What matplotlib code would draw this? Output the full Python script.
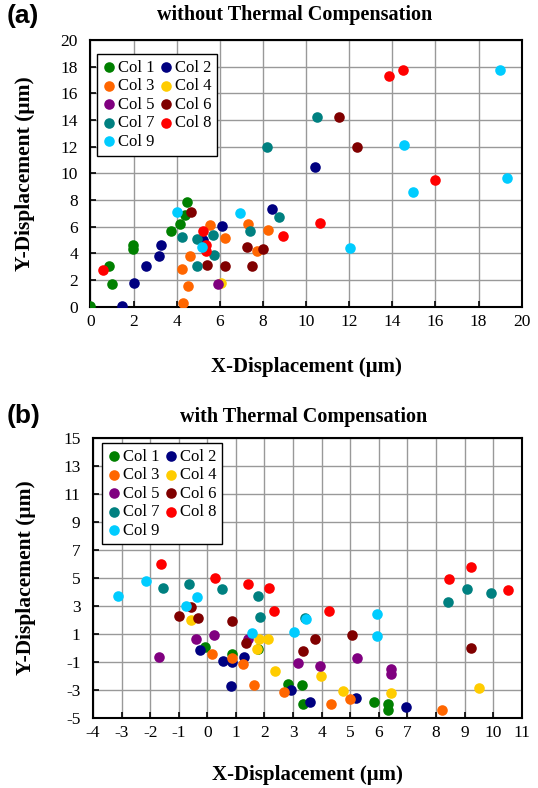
import matplotlib
matplotlib.use("Agg")
import matplotlib.pyplot as plt

plt.rcParams['font.family'] = ['Liberation Serif', 'DejaVu Serif']
plt.rcParams['axes.unicode_minus'] = False

labels = ['Col 1', 'Col 2', 'Col 3', 'Col 4', 'Col 5', 'Col 6', 'Col 7', 'Col 8', 'Col 9']
colors = ['#008000', '#000080', '#ff6600', '#ffcc00', '#800080',
          '#800000', '#008080', '#ff0000', '#00ccff']

# (a) without thermal compensation
a1x = [0.0, 0.98, 0.87, 1.99, 1.99, 3.72, 4.15, 4.46, 4.38]
a1y = [0.05, 1.7, 3.05, 4.6, 4.3, 5.67, 6.2, 7.87, 6.87]
a2x = [1.45, 2.03, 2.56, 3.19, 3.27, 5.2, 6.08, 8.43, 10.41]
a2y = [0.05, 1.8, 3.05, 3.8, 4.62, 5.0, 6.07, 7.32, 10.47]
a3x = [4.3, 4.54, 4.23, 4.62, 5.54, 6.24, 7.32, 7.71, 8.24]
a3y = [0.25, 1.58, 2.8, 3.8, 6.1, 5.13, 6.2, 4.2, 5.75]
a4x = [6.05]
a4y = [1.8]
a5x = [5.93]
a5y = [1.68]
a6x = [4.65, 5.39, 6.24, 7.25, 7.99, 7.47, 11.53, 12.38]
a6y = [7.1, 3.12, 3.05, 4.5, 4.3, 3.05, 14.2, 12.0]
a7x = [4.23, 4.93, 4.93, 5.68, 5.74, 7.4, 8.17, 8.74, 10.49]
a7y = [5.25, 5.1, 3.05, 5.35, 3.87, 5.67, 11.95, 6.7, 14.2]
a8x = [0.6, 5.2, 5.38, 5.36, 8.94, 10.64, 13.85, 14.51, 15.98]
a8y = [2.75, 5.67, 4.62, 4.2, 5.32, 6.3, 17.32, 17.74, 9.5]
a9x = [4.03, 5.16, 6.93, 12.04, 14.56, 14.94, 18.99, 19.33]
a9y = [7.12, 4.5, 7.05, 4.37, 12.12, 8.57, 17.74, 9.62]

# (b) with thermal compensation
b1x = [-0.07, 0.86, 1.79, 2.81, 3.3, 3.33, 5.84, 6.31, 6.31]
b1y = [0.04, -0.44, -0.1, -2.6, -2.65, -4.02, -3.85, -4.02, -4.44]
b2x = [-0.24, 0.56, 0.86, 1.3, 0.82, 2.93, 3.6, 5.2, 6.95]
b2y = [-0.15, -0.93, -1.0, -0.68, -2.72, -3.01, -3.9, -3.61, -4.21]
b3x = [0.15, 0.86, 1.24, 1.64, 2.67, 4.32, 4.98, 8.21]
b3y = [-0.46, -0.75, -1.15, -2.65, -3.13, -4.04, -3.63, -4.44]
b4x = [-0.56, 1.74, 1.82, 2.13, 2.37, 3.98, 4.76, 6.41, 9.51]
b4y = [2.0, -0.08, 0.64, 0.64, -1.63, -1.99, -3.06, -3.25, -2.89]
b5x = [-1.68, -0.41, 0.23, 1.41, 3.16, 3.94, 5.24, 6.41, 6.41]
b5y = [-0.67, 0.64, 0.92, 0.61, -1.06, -1.27, -0.75, -1.53, -1.87]
b6x = [-1.0, -0.56, -0.31, 0.86, 1.35, 3.33, 3.78, 5.05, 9.23]
b6y = [2.31, 2.9, 2.12, 1.95, 0.37, -0.2, 0.64, 0.92, 0.01]
b7x = [-1.56, -0.65, 0.51, 1.79, 1.83, 3.43, 8.41, 9.1, 9.91]
b7y = [4.31, 4.55, 4.21, 3.74, 2.24, 2.16, 3.31, 4.21, 3.93]
b8x = [-1.62, 0.27, 1.44, 2.17, 2.32, 4.27, 8.46, 9.23, 10.53]
b8y = [6.0, 4.98, 4.55, 4.31, 2.64, 2.64, 4.91, 5.81, 4.12]
b9x = [-3.11, -2.14, -0.35, -0.74, 1.55, 3.05, 3.45, 5.93, 5.93]
b9y = [3.72, 4.81, 3.62, 3.02, 1.04, 1.14, 2.07, 2.43, 0.85]

a_xs = [a1x, a2x, a3x, a4x, a5x, a6x, a7x, a8x, a9x]
a_ys = [a1y, a2y, a3y, a4y, a5y, a6y, a7y, a8y, a9y]
b_xs = [b1x, b2x, b3x, b4x, b5x, b6x, b7x, b8x, b9x]
b_ys = [b1y, b2y, b3y, b4y, b5y, b6y, b7y, b8y, b9y]

fig = plt.figure(figsize=(5.38, 7.88), dpi=100)
axa = fig.add_axes([0.1682, 0.6108, 0.8015, 0.3384])
axb = fig.add_axes([0.1729, 0.0892, 0.7968, 0.3546])


def style(ax, xlim, ylim, xstep, ystep, xlab_y, ylab_x):
    ax.set_xlim(*xlim)
    ax.set_ylim(*ylim)
    ax.set_xticks(range(xlim[0], xlim[1] + 1, xstep))
    ax.set_yticks(range(ylim[0], ylim[1] + 1, ystep))
    ax.grid(True, color='#999999', lw=1)
    ax.set_axisbelow(True)
    ax.tick_params(direction='in', length=4, width=1.2, labelsize=12.5)
    ax.tick_params(axis='x', pad=5)
    ax.tick_params(axis='y', pad=9)
    for s in ax.spines.values():
        s.set_linewidth(1.5)
        s.set_color('black')
    ax.set_xlabel('X-Displacement (\u03bcm)', fontsize=15, fontweight='bold')
    ax.set_ylabel('Y-Displacement (\u03bcm)', fontsize=15.5, fontweight='bold')
    ax.xaxis.set_label_coords(0.5, xlab_y)
    ax.yaxis.set_label_coords(ylab_x, 0.5)


for ax, xs, ys in [(axa, a_xs, a_ys), (axb, b_xs, b_ys)]:
    for x, y, c, lab in zip(xs, ys, colors, labels):
        ax.scatter(x, y, s=58, color=c, label=lab, zorder=3, linewidths=0)

style(axa, (0, 20), (0, 20), 2, 2, -0.19, -0.128)
style(axb, (-4, 11), (-5, 15), 1, 2, -0.168, -0.134)

# legend filled row by row: Col 1 Col 2 / Col 3 Col 4 ...
order = [0, 2, 4, 6, 8, 1, 3, 5, 7]
for ax, anchor in [(axa, (0.0144, 0.9475)), (axb, (0.0203, 0.984))]:
    h, l = ax.get_legend_handles_labels()
    leg = ax.legend([h[i] for i in order], [l[i] for i in order], ncol=2,
                    loc='upper left', bbox_to_anchor=anchor, fontsize=12,
                    frameon=True, fancybox=False, edgecolor='black', framealpha=1,
                    handletextpad=0.15, columnspacing=0.25, borderpad=0.35,
                    labelspacing=0.15, handlelength=0.8, borderaxespad=0)
    leg.get_frame().set_linewidth(1.0)

fig.text(295 / 538, 1 - 15 / 788, 'without Thermal Compensation', ha='center', va='center',
         fontsize=14.5, fontweight='bold')
fig.text(304 / 538, 1 - 417 / 788, 'with Thermal Compensation', ha='center', va='center',
         fontsize=14.5, fontweight='bold')
fig.text(7 / 538, 1 - 16 / 788, '(a)', ha='left', va='center', fontsize=19,
         fontweight='bold', family=['Liberation Sans', 'DejaVu Sans'])
fig.text(7 / 538, 1 - 416 / 788, '(b)', ha='left', va='center', fontsize=19,
         fontweight='bold', family=['Liberation Sans', 'DejaVu Sans'])

fig.savefig('out.png', dpi=100)
